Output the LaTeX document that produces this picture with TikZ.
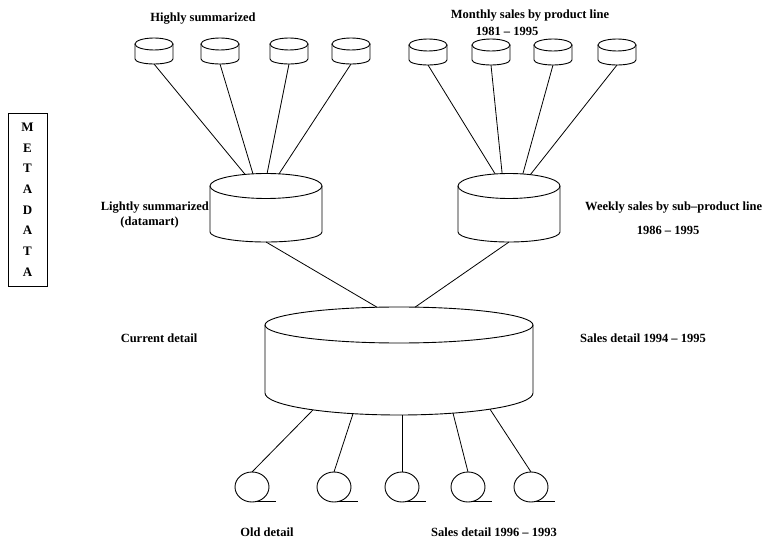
\documentclass[tikz,border=0pt]{standalone}
\usepackage{fontspec}
\setmainfont{Liberation Serif}
\usetikzlibrary{shapes.geometric}

% A disk-store symbol: elliptic top face (a named node), walls and a sagging base.
% #1 name, #2 cx, #3 cy of top face, #4 x radius, #5 y radius, #6 wall height, #7 base sag
\newcommand{\dbdisk}[7]{%
  \node[face, minimum width=2*#4, minimum height=2*#5] (#1) at (#2,#3) {};
  \draw[wall] (#1.west) -- ++(0,#6)
    arc[start angle=180, end angle=0, x radius=#4, y radius=#7] -- (#1.east);
  \coordinate (#1-bot) at (#2,#3+#6+#7);
}

\begin{document}
\begin{tikzpicture}[x=1pt, y=-1pt,
  wall/.style={line width=0.9pt, line join=round},
  face/.style={ellipse, draw, line width=0.9pt, inner sep=0pt, outer sep=0pt},
  reel/.style={ellipse, draw, line width=0.9pt, inner sep=0pt, outer sep=0pt,
               minimum width=34pt, minimum height=30pt},
  lbl/.style={font=\bfseries\fontsize{12.5}{14}\selectfont, inner sep=0pt},
  link/.style={line width=0.8pt}]
\useasboundingbox (0,0) rectangle (771,545);

% ---- highly summarized stores
\dbdisk{t1}{154}{44}{19}{6}{15}{5}
\dbdisk{t2}{220}{44}{19}{6}{15}{5}
\dbdisk{t3}{289}{44}{19}{6}{15}{5}
\dbdisk{t4}{351}{44}{19}{6}{15}{5}
% ---- monthly sales stores
\dbdisk{t5}{428}{45}{19}{6}{15}{5}
\dbdisk{t6}{491}{45}{19}{6}{15}{5}
\dbdisk{t7}{553}{45}{19}{6}{15}{5}
\dbdisk{t8}{617}{45}{19}{6}{15}{5}

% ---- lightly summarized / weekly sales
\dbdisk{L}{266}{186}{56}{12.5}{46}{10}
\dbdisk{R}{509}{186}{51}{12.5}{46}{10}

% ---- current detail
\dbdisk{C}{399}{325}{134}{18}{68}{22}
\coordinate (C-b1) at (313,409.9);
\coordinate (C-b2) at (353,413.7);
\coordinate (C-b3) at (402,415);
\coordinate (C-b4) at (453,413.1);
\coordinate (C-b5) at (490,409.2);

% ---- old detail reels
\foreach \n/\x in {1/252, 2/334, 3/402, 4/468, 5/531} {
  \node[reel] (o\n) at (\x,487) {};
  \draw[wall] (o\n.-80) -- ++(21,0);
}

% ---- connectors
\draw[link] (t1-bot) -- (L.151);
\draw[link] (t2-bot) -- (L.137);
\draw[link] (t3-bot) -- (L.85);
\draw[link] (t4-bot) -- (L.43);
\draw[link] (t5-bot) -- (R.139);
\draw[link] (t6-bot) -- (R.119);
\draw[link] (t7-bot) -- (R.41);
\draw[link] (t8-bot) -- (R.28);
\draw[link] (L-bot) -- (C.141);
\draw[link] (R-bot) -- (C.48);
\draw[link] (C-b1) -- (o1.north);
\draw[link] (C-b2) -- (o2.north);
\draw[link] (C-b3) -- (o3.north);
\draw[link] (C-b4) -- (o4.north);
\draw[link] (C-b5) -- (o5.north);

% ---- metadata column
\node[draw, line width=0.9pt, minimum width=39pt, minimum height=173pt, inner sep=0pt,
      align=center, font=\bfseries\fontsize{13}{20.7}\selectfont] (meta) at (27.5,199.5)
  {M\\E\\T\\A\\D\\A\\T\\A};

% ---- labels
\node[lbl] (lhs) at (203,19) {Highly summarized};
\node[lbl] (lms) at (530,16) {Monthly sales by product line};
\node[lbl] (lmy) at (507,31) {1981 – 1995};
\node[lbl, anchor=east] (lls) at (209,208) {Lightly summarized};
\node[lbl, anchor=east] (ldm) at (179,222) {(datamart)};
\node[lbl, anchor=west] (lws) at (585,208) {Weekly sales by sub–product line};
\node[lbl] (lwy) at (668,230) {1986 – 1995};
\node[lbl] (lcd) at (159,338) {Current detail};
\node[lbl] (lsd) at (643,338) {Sales detail 1994 – 1995};
\node[lbl] (lod) at (267,532) {Old detail};
\node[lbl] (lso) at (494,532) {Sales detail 1996 – 1993};
\end{tikzpicture}
\end{document}
